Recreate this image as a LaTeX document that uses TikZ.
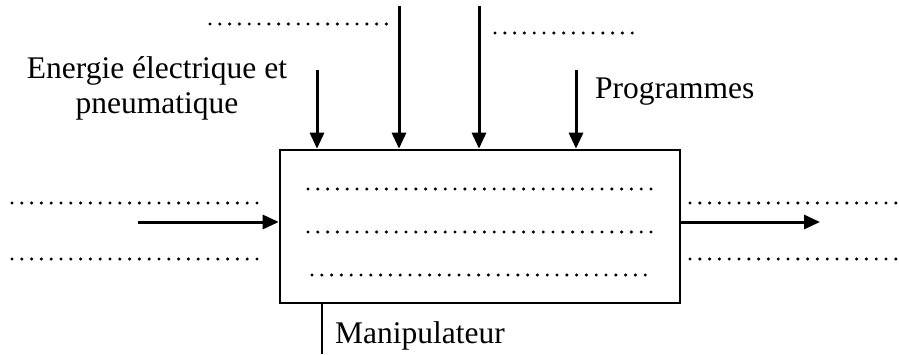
\documentclass[tikz,border=0pt]{standalone}
\usepackage{fontspec}
\setmainfont{Liberation Serif}
\usetikzlibrary{arrows.meta}
\begin{document}
\begin{tikzpicture}[x=1pt,y=-1pt,
  lbl/.style={inner sep=0pt,font=\fontsize{31.5}{35}\selectfont},
  dotline/.style={line width=3.4pt,dash pattern=on 0pt off 9.8pt,line cap=round},
  flow/.style={line width=3pt,-{Triangle[length=16pt,width=14pt]}},
  boxstyle/.style={draw,line width=2.6pt,minimum width=400pt,minimum height=153pt,inner sep=0pt}]
\useasboundingbox (0,0) rectangle (899,354);
\node[boxstyle] (box) at (480,226.5) {};
% top arrows
\coordinate (t1) at (317,70);
\coordinate (t2) at (399,6);
\coordinate (t3) at (479,6);
\coordinate (t4) at (576,70);
\foreach \c in {t1,t2,t3,t4} \draw[flow] (\c) -- (\c |- box.north);
% left / right arrows
\coordinate (in) at (138,222);
\coordinate (out) at (820,222);
\draw[flow] (in) -- (in -| box.west);
\draw[flow] (out -| box.east) -- (out);
% manipulateur line
\coordinate (m) at (322,354);
\draw[line width=2.4pt] (m |- box.south) -- (m);
% labels
\node[lbl,align=center,anchor=base] (energie) at (157,113) {Energie électrique et\\pneumatique};
\node[lbl,anchor=base west] (prog) at (595,98) {Programmes};
\node[lbl,anchor=base west] (manip) at (335,343) {Manipulateur};
% dotted placeholders
\coordinate (d1a) at (210,24); \coordinate (d1b) at (393,24);
\coordinate (d2a) at (495,33); \coordinate (d2b) at (640,33);
\coordinate (d3a) at (12,203); \coordinate (d3b) at (258,203);
\coordinate (d4a) at (12,259); \coordinate (d4b) at (258,259);
\coordinate (d5a) at (690,203); \coordinate (d5b) at (897,203);
\coordinate (d6a) at (690,259); \coordinate (d6b) at (897,259);
\coordinate (d7a) at (308,189); \coordinate (d7b) at (652,189);
\coordinate (d8a) at (308,232); \coordinate (d8b) at (652,232);
\coordinate (d9a) at (312,275); \coordinate (d9b) at (652,275);
\foreach \a/\b in {d1a/d1b,d2a/d2b,d3a/d3b,d4a/d4b,d5a/d5b,d6a/d6b,d7a/d7b,d8a/d8b,d9a/d9b}
  \draw[dotline] (\a) -- (\b);
\end{tikzpicture}
\end{document}
